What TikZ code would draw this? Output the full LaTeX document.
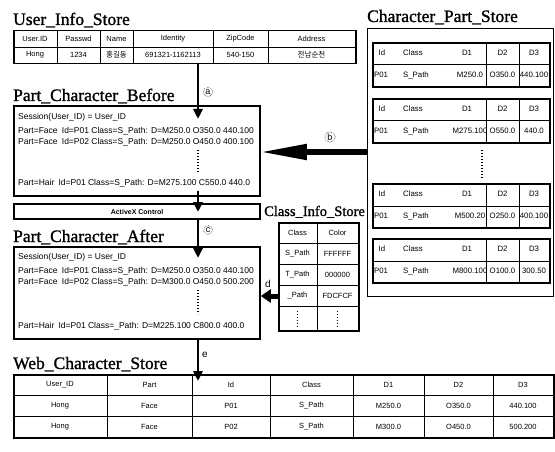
\documentclass[tikz,border=0pt]{standalone}
\usepackage{fontspec}
\setmainfont{Liberation Serif}
\setsansfont{Liberation Sans}
\newfontfamily\krfont{Noto Sans CJK KR}
\newfontfamily\ttlfont{Liberation Serif}[FakeBold=1.2,AutoFakeBold=1.2]
\usetikzlibrary{arrows.meta,calc}
\begin{document}
\begin{tikzpicture}[x=1pt,y=-1pt,
  ttl/.style={anchor=base west,inner sep=0pt,font=\ttlfont\bfseries\fontsize{17.5}{18}\selectfont},
  boxf/.style={draw,line width=1.8pt,inner sep=0pt,anchor=north west},
  tboxf/.style={draw,line width=1.5pt,inner sep=0pt,anchor=north west},
  gl/.style={line width=0.6pt},
  cell/.style={inner sep=0pt,font=\sffamily\fontsize{7.5}{8}\selectfont},
  cpcell/.style={inner sep=0pt,font=\sffamily\fontsize{7.8}{8}\selectfont},
  txline/.style={inner sep=0pt,anchor=base west,font=\sffamily\fontsize{8.5}{9}\selectfont},
  flow/.style={line width=2.6pt,-{Triangle[length=10pt,width=9pt]}},
  bigflow/.style={line width=5pt,-{Triangle[length=46pt,width=15pt]}},
  midflow/.style={line width=5pt,-{Triangle[length=10pt,width=13pt]}},
  clbl/.style={circle,draw,densely dotted,line width=0.5pt,inner sep=0.8pt,font=\sffamily\fontsize{9}{9}\selectfont},
  plbl/.style={inner sep=0pt,font=\sffamily\fontsize{10}{10}\selectfont},
  vdots/.style={line width=1.2pt,dash pattern=on 1.2pt off 1.8pt}
]
\useasboundingbox (0,0) rectangle (555,452);

% titles
\node[ttl] (tuser) at (13,25) {User\_Info\_Store};
\node[ttl] (tcps) at (367,22) {Character\_Part\_Store};
\node[ttl] (tbefore) at (13,101) {Part\_Character\_Before};
\node[ttl,font=\ttlfont\bfseries\fontsize{14.5}{15}\selectfont] (tcls) at (264,216) {Class\_Info\_Store};
\node[ttl] (tafter) at (13,242) {Part\_Character\_After};
\node[ttl] (tweb) at (13,369) {Web\_Character\_Store};

% User_Info_Store table
\node[tboxf,minimum width=342pt,minimum height=33pt] (user) at (13,30) {};
\draw[gl] (user.west) -- (user.east);
\foreach \xx in {57,100,133,213,268} \draw[gl] (\xx,30) -- (\xx,63);
\foreach \cx/\h/\d [count=\i] in {35/User.ID/Hong, 78.5/Passwd/1234, 116.5/Name/{\krfont 홍길동}, 173/Identity/691321-1162113, 240.5/ZipCode/540-150, 311.5/Address/{\krfont 전남순천}} {
  \node[cell] (uh\i) at (\cx,38.5) {\h};
  \node[cell] (ud\i) at (\cx,55) {\d};
}

% Part_Character_Before
\node[boxf,minimum width=246pt,minimum height=90pt] (before) at (13,105) {};
\node[txline] (b1) at (18,120) {Session(User\_ID) = User\_ID};
\node[txline] (b2) at (18,134) {Part=Face\enspace Id=P01 Class=S\_Path: D=M250.0 O350.0 440.100};
\node[txline] (b3) at (18,145) {Part=Face\enspace Id=P02 Class=S\_Path: D=M250.0 O450.0 400.100};
\draw[vdots] (198,150) -- (198,172);
\node[txline] (b4) at (18,185) {Part=Hair\enspace Id=P01 Class=S\_Path: D=M275.100 C550.0 440.0};

% ActiveX
\node[boxf,line width=2.1pt,minimum width=246pt,minimum height=15pt,font=\sffamily\bfseries\fontsize{7}{8}\selectfont] (activex) at (13,203) {ActiveX Control};

% Part_Character_After
\node[boxf,minimum width=246pt,minimum height=92pt] (after) at (13,246) {};
\node[txline] (a1) at (18,259) {Session(User\_ID) = User\_ID};
\node[txline] (a2) at (18,273) {Part=Face\enspace Id=P01 Class=S\_Path: D=M250.0 O350.0 440.100};
\node[txline] (a3) at (18,284) {Part=Face\enspace Id=P02 Class=S\_Path: D=M300.0 O450.0 500.200};
\draw[vdots] (198,290) -- (198,314);
\node[txline] (a4) at (18,328) {Part=Hair\enspace Id=P01 Class=\_Path: D=M225.100 C800.0 400.0};

% Character_Part_Store
\node[boxf,line width=1pt,minimum width=186pt,minimum height=268pt] (cps) at (367,28) {};
\foreach \n/\yy/\da/\db/\dc in {1/42/M250.0/O350.0/440.100, 2/98/M275.100/O550.0/440.0, 3/183/M500.20/O250.0/400.100, 4/238/M800.100/O100.0/300.50} {
  \node[tboxf,line width=1.6pt,minimum width=177pt,minimum height=44pt] (cpt\n) at (372,\yy) {};
  \draw[gl] (cpt\n.west) -- (cpt\n.east);
  \draw[gl] (486,\yy) -- (486,\yy+44);
  \draw[gl] (519,\yy) -- (519,\yy+44);
  \node[cpcell] (cpi\n) at (382,\yy+11) {Id};
  \node[cpcell,anchor=west] (cpc\n) at (403,\yy+11) {Class};
  \node[cpcell] (cph1\n) at (467,\yy+11) {D1};
  \node[cpcell] (cph2\n) at (502.5,\yy+11) {D2};
  \node[cpcell] (cph3\n) at (534,\yy+11) {D3};
  \node[cpcell] (cpp\n) at (381,\yy+33) {P01};
  \node[cpcell,anchor=west] (cps\n) at (403,\yy+33) {S\_Path};
  \node[cpcell] (cpd1\n) at (470,\yy+33) {\da};
  \node[cpcell] (cpd2\n) at (502.5,\yy+33) {\db};
  \node[cpcell] (cpd3\n) at (534,\yy+33) {\dc};
}
\draw[vdots] (482,150) -- (482,178);

% Class_Info_Store table
\node[tboxf,minimum width=80pt,minimum height=108pt] (cls) at (278,222) {};
\draw[gl] (317,222) -- (317,330);
\foreach \yy in {243,264,285,306} \draw[gl] (278,\yy) -- (358,\yy);
\foreach \yy/\ca/\cb [count=\i] in {232.5/Class/Color, 253.5/S\_Path/FFFFFF, 274.5/T\_Path/000000, 295.5/\_Path/FDCFCF} {
  \node[cell] (ca\i) at (297.5,\yy) {\ca};
  \node[cell] (cb\i) at (337.5,\yy) {\cb};
}
\draw[vdots] (297.5,311) -- (297.5,327);
\draw[vdots] (337.5,311) -- (337.5,327);

% Web_Character_Store table
\node[tboxf,minimum width=540pt,minimum height=63pt] (web) at (13,374) {};
\foreach \xx in {107,192,270,353,424,493} \draw[gl] (\xx,374) -- (\xx,437);
\foreach \yy in {395,416} \draw[gl] (13,\yy) -- (553,\yy);
\foreach \cx/\h/\r/\s [count=\i] in {60/User\_ID/Hong/Hong, 149.5/Part/Face/Face, 231/Id/P01/P02, 311.5/Class/S\_Path/S\_Path, 388.5/D1/M250.0/M300.0, 458.5/D2/O350.0/O450.0, 523/D3/440.100/500.200} {
  \node[cell] (wh\i) at (\cx,384.5) {\h};
  \node[cell] (wr\i) at (\cx,405.5) {\r};
  \node[cell] (ws\i) at (\cx,426.5) {\s};
}

% connectors
\coordinate (ax) at (198,0);
\coordinate (by) at (0,152);
\coordinate (dy) at (0,296);
\draw[flow] (user.south -| ax) -- ($(before.north -| ax)+(0,14)$);
\draw[flow] ($(before.south -| ax)+(0,-6)$) -- ($(activex.north -| ax)+(0,9)$);
\draw[flow] (activex.south -| ax) -- ($(after.north -| ax)+(0,12)$);
\draw[flow] (after.south -| ax) -- ($(web.north -| ax)+(0,7)$);
\draw[bigflow] (cps.west |- by) -- (before.east |- by);
\draw[midflow] (cls.west |- dy) -- (after.east |- dy);

% labels
\node[clbl] (la) at (208,92) {a};
\node[clbl] (lb) at (330,137) {b};
\node[clbl] (lc) at (208,230) {c};
\node[plbl] (ld) at (268,284) {d};
\node[plbl] (le) at (205,355) {e};
\end{tikzpicture}
\end{document}
